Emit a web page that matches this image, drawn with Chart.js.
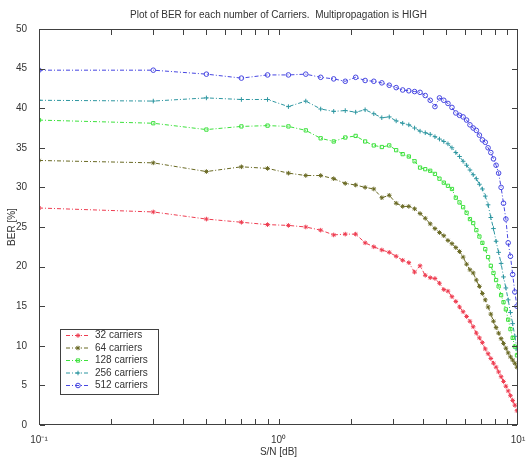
<!DOCTYPE html>
<html>
<head>
<meta charset="utf-8">
<script src="https://cdn.jsdelivr.net/npm/chart.js@4.4.1/dist/chart.umd.min.js"></script>
<style>
  html, body { margin: 0; padding: 0; background: #fff; }
</style>
</head>
<body>
<canvas id="grafico" width="531" height="463"></canvas>
<script>
// valores de S/N (eje x, logaritmico)
const snr = [0.1, 0.3, 0.5, 0.7, 0.9, 1.1, 1.3, 1.5, 1.7, 1.9,
             2.1, 2.3, 2.5, 2.7, 2.9, 3.1, 3.3, 3.5, 3.7, 3.9,
             4.1, 4.3, 4.5, 4.7, 4.9, 5.1, 5.3, 5.5, 5.7, 5.9,
             6.1, 6.3, 6.5, 6.7, 6.9, 7.1, 7.3, 7.5, 7.7, 7.9,
             8.1, 8.3, 8.5, 8.7, 8.9, 9.1, 9.3, 9.5, 9.7, 9.9];

// BER [%] por numero de portadoras
const ber32 = [27.4, 26.9, 26.0, 25.6, 25.3, 25.2, 25.0, 24.6, 24.0, 24.1,
               24.1, 23.0, 22.5, 22.1, 21.8, 21.3, 20.8, 20.5, 19.3, 20.1,
               18.9, 18.6, 18.5, 17.9, 17.1, 16.9, 16.2, 15.6, 14.9, 14.3,
               13.7, 13.1, 12.4, 11.6, 11.0, 10.4, 9.6, 9.0, 8.4, 7.8,
               7.3, 6.7, 6.1, 5.5, 4.9, 4.3, 3.7, 3.1, 2.5, 1.8];
const ber64 = [33.4, 33.1, 32.0, 32.6, 32.4, 31.8, 31.5, 31.5, 31.1, 30.5,
               30.3, 30.0, 29.8, 28.7, 29.0, 28.0, 27.6, 27.6, 27.3, 26.7,
               26.1, 25.4, 24.8, 24.3, 23.9, 23.3, 22.9, 22.4, 21.9, 21.2,
               20.3, 19.6, 19.2, 18.3, 17.5, 16.6, 15.8, 14.9, 14.0, 13.1,
               12.3, 11.6, 10.9, 10.3, 9.7, 9.1, 8.6, 8.2, 7.8, 7.3];
const ber128 = [38.5, 38.1, 37.3, 37.7, 37.8, 37.7, 37.2, 36.2, 35.8, 36.3,
                36.5, 35.8, 35.3, 35.1, 35.3, 34.7, 34.2, 33.9, 33.3, 32.5,
                32.3, 32.1, 31.7, 31.1, 30.6, 30.2, 29.8, 28.7, 28.1, 27.5,
                26.8, 26.0, 25.5, 24.6, 23.8, 23.0, 22.2, 21.2, 20.1, 19.2,
                18.3, 17.5, 16.4, 15.5, 14.6, 13.3, 12.1, 11.0, 9.9, 8.8];
const ber256 = [41.0, 40.9, 41.3, 41.1, 41.1, 40.2, 40.9, 39.9, 39.6, 39.7,
                39.5, 39.8, 39.3, 38.8, 38.9, 38.4, 38.1, 37.9, 37.5, 37.1,
                36.9, 36.7, 36.4, 36.1, 35.8, 35.5, 35.0, 34.4, 33.9, 33.3,
                32.8, 32.2, 31.6, 31.1, 30.4, 29.8, 28.9, 27.8, 26.2, 24.8,
                23.2, 21.8, 20.4, 18.7, 17.3, 15.8, 14.2, 12.8, 11.2, 9.6];
const ber512 = [44.8, 44.8, 44.3, 43.8, 44.2, 44.2, 44.3, 43.9, 43.7, 43.4,
                43.9, 43.5, 43.4, 43.2, 42.9, 42.6, 42.3, 42.2, 42.1, 42.0,
                41.6, 41.0, 40.2, 41.3, 41.0, 40.6, 40.1, 39.4, 39.1, 38.9,
                38.5, 37.9, 37.5, 37.2, 36.6, 36.0, 35.7, 35.0, 34.4, 33.6,
                32.8, 31.8, 30.0, 28.0, 26.0, 23.0, 21.3, 19.0, 16.8, 15.0];

const etiquetas = ['32 carriers', '64 carriers', '128 carriers', '256 carriers', '512 carriers'];
const valores = [ber32, ber64, ber128, ber256, ber512];
const colores = ['rgb(238,60,80)', 'rgb(105,105,35)', 'rgb(60,225,60)', 'rgb(45,150,160)', 'rgb(70,70,225)'];
const marcadores = ['star', 'star', 'rect', 'cross', 'circle'];

// ticks del eje x
const xMayores = [0.1, 1, 10];
const xEtiquetas = ['10\u207B\u00B9', '10\u2070', '10\u00B9'];
const xMenores = [0.2, 0.3, 0.4, 0.5, 0.6, 0.7, 0.8, 0.9, 1, 2, 3, 4, 5, 6, 7, 8, 9];
const yTicks = [0, 5, 10, 15, 20, 25, 30, 35, 40, 45, 50];

const fuente = 'Liberation Sans, Arial, sans-serif';
const guion = [4, 2, 1, 2];

// caja y ticks hacia dentro, estilo matlab
const ejesMatlab = {
    id: 'ejesMatlab',
    afterDraw(chart) {
        const { ctx, chartArea: a, scales: { x, y } } = chart;
        ctx.save();
        ctx.strokeStyle = '#404040';
        ctx.lineWidth = 1;
        ctx.setLineDash([]);
        ctx.strokeRect(a.left + 0.5, a.top + 0.5, a.right - a.left - 1, a.bottom - a.top - 1);
        ctx.beginPath();
        xMenores.forEach(v => {
            const px = Math.round(x.getPixelForValue(v)) + 0.5;
            ctx.moveTo(px, a.bottom - 1); ctx.lineTo(px, a.bottom - 6);
            ctx.moveTo(px, a.top + 1); ctx.lineTo(px, a.top + 6);
        });
        yTicks.forEach(v => {
            const py = Math.round(y.getPixelForValue(v)) + 0.5;
            ctx.moveTo(a.left + 1, py); ctx.lineTo(a.left + 6, py);
            ctx.moveTo(a.right - 1, py); ctx.lineTo(a.right - 6, py);
        });
        ctx.stroke();
        ctx.restore();
    }
};

// leyenda dentro del area, abajo a la izquierda
const leyendaMatlab = {
    id: 'leyendaMatlab',
    afterDraw(chart) {
        const ctx = chart.ctx;
        const caja = { x: 60, y: 329, w: 98, h: 65 };
        ctx.save();
        ctx.fillStyle = '#fff';
        ctx.fillRect(caja.x, caja.y, caja.w, caja.h);
        ctx.strokeStyle = '#404040';
        ctx.lineWidth = 1;
        ctx.strokeRect(caja.x + 0.5, caja.y + 0.5, caja.w, caja.h);
        ctx.font = '10px ' + fuente;
        ctx.textBaseline = 'middle';
        chart.data.datasets.forEach((ds, i) => {
            const fy = caja.y + 6.5 + i * 12.5;
            ctx.strokeStyle = ds.borderColor;
            ctx.setLineDash(guion);
            ctx.beginPath();
            ctx.moveTo(caja.x + 6, fy);
            ctx.lineTo(caja.x + 30, fy);
            ctx.stroke();
            ctx.setLineDash([]);
            ctx.fillStyle = 'rgba(0,0,0,0)';
            Chart.helpers.drawPoint(ctx, { pointStyle: ds.pointStyle, radius: ds.pointRadius, borderWidth: 1, rotation: 0 }, caja.x + 18, fy);
            ctx.fillStyle = '#333';
            ctx.fillText(ds.label, caja.x + 35, fy);
        });
        ctx.restore();
    }
};

const ctx = document.getElementById('grafico').getContext('2d');

new Chart(ctx, {
    type: 'line',
    data: {
        datasets: etiquetas.map((nombre, i) => ({
            label: nombre,
            data: snr.map((s, j) => ({ x: s, y: valores[i][j] })),
            borderColor: colores[i],
            backgroundColor: 'rgba(0,0,0,0)',
            borderWidth: 1,
            borderDash: guion,
            pointStyle: marcadores[i],
            pointRadius: 2.3,
            pointBorderWidth: 1,
            pointBorderColor: colores[i],
            pointBackgroundColor: 'rgba(0,0,0,0)',
            tension: 0,
            fill: false
        }))
    },
    options: {
        responsive: false,
        animation: false,
        layout: { padding: { top: 1, right: 13, left: 0, bottom: 0 } },
        plugins: {
            legend: { display: false },
            tooltip: { enabled: false },
            title: {
                display: true,
                fullSize: false,
                text: 'Plot of BER for each number of Carriers.  Multipropagation is HIGH',
                color: '#333',
                font: { family: fuente, size: 10, weight: 'normal' },
                padding: { top: 8, bottom: 8 }
            }
        },
        scales: {
            x: {
                type: 'logarithmic',
                min: 0.1,
                max: 10,
                afterBuildTicks: sc => { sc.ticks = xMayores.map(v => ({ value: v, major: true })); },
                afterFit: sc => { sc.height = 38; },
                grid: { display: false },
                border: { display: false },
                ticks: {
                    autoSkip: false,
                    maxRotation: 0,
                    padding: 1,
                    color: '#333',
                    font: { family: fuente, size: 10 },
                    callback: v => {
                        const i = xMayores.indexOf(v);
                        return i >= 0 ? xEtiquetas[i] : '';
                    }
                },
                title: {
                    display: true,
                    text: 'S/N [dB]',
                    color: '#333',
                    font: { family: fuente, size: 10 },
                    padding: { top: 0, bottom: 5 }
                }
            },
            y: {
                min: 0,
                max: 50,
                afterFit: sc => { sc.width = 39; },
                grid: { display: false },
                border: { display: false },
                ticks: {
                    stepSize: 5,
                    padding: 4,
                    color: '#333',
                    font: { family: fuente, size: 10 }
                },
                title: {
                    display: true,
                    text: 'BER [%]',
                    color: '#333',
                    font: { family: fuente, size: 10 },
                    padding: { top: 6, bottom: 0 }
                }
            }
        }
    },
    plugins: [ejesMatlab, leyendaMatlab]
});
</script>
</body>
</html>
